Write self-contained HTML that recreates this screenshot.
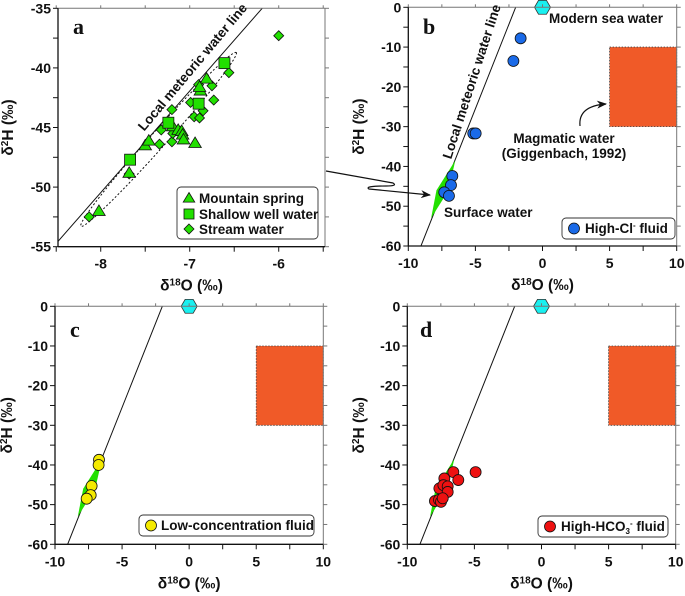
<!DOCTYPE html>
<html><head><meta charset="utf-8"><style>
body{margin:0;background:#fff}
svg{display:block;font-family:"Liberation Sans",Arial,sans-serif}
.tk{font-size:14px;font-weight:bold;fill:#111}
.tt{font-size:15.5px;font-weight:bold;fill:#111}
.lg{font-size:13.5px;font-weight:bold;fill:#111}
.pl{font-family:"Liberation Serif",serif;font-size:22px;font-weight:bold;fill:#111}
</style></head><body>
<svg id="chart" width="685" height="596" viewBox="0 0 685 596">
<defs>
<marker id="ah" markerWidth="10" markerHeight="8" refX="9" refY="4" orient="auto" markerUnits="userSpaceOnUse"><path d="M0,0 L10,4 L0,8 L3,4 Z" fill="#111"/></marker>
</defs>
</svg>
<script>
// Panel a data
const aMountainSpring=[[-8.02,-52.0],[-7.68,-48.8],[-7.50,-46.5],[-7.46,-46.1],[-7.19,-44.9],[-7.13,-45.2],[-7.09,-45.3],[-7.08,-45.6],[-7.07,-46.0],[-6.94,-46.3],[-6.88,-41.9],[-6.81,-40.9],[-6.89,-41.6]];
const aShallowWell=[[-7.67,-47.7],[-7.24,-44.6],[-6.90,-43.0],[-6.61,-39.6]];
const aStream=[[-8.13,-52.5],[-7.68,-48.9],[-7.34,-46.4],[-7.20,-43.5],[-7.32,-45.2],[-7.20,-46.2],[-6.99,-42.9],[-6.95,-44.1],[-6.89,-44.2],[-6.85,-43.6],[-6.90,-41.4],[-6.75,-41.5],[-6.73,-42.7],[-6.56,-40.4],[-6.0,-37.3],[-7.19,-45.5]];
const aXTicks=[-8,-7,-6];
const aYTicks=[-35,-40,-45,-50,-55];
// Panels b-d data
const bHighCl=[[-1.63,-7.8],[-2.17,-13.5],[-5.16,-31.7],[-4.98,-31.7],[-6.72,-42.4],[-6.82,-44.7],[-7.32,-46.5],[-6.97,-47.4]];
const cLowConc=[[-6.72,-38.7],[-6.75,-40.0],[-7.27,-45.3],[-7.34,-47.6],[-7.64,-48.5]];
const dHighHCO3=[[-6.57,-41.8],[-4.91,-41.8],[-6.20,-43.8],[-7.24,-43.4],[-7.61,-45.9],[-7.31,-45.1],[-6.99,-45.4],[-6.99,-46.8],[-7.94,-49.1],[-7.64,-48.8],[-7.49,-49.3],[-7.36,-48.4]];
const bigXTicks=[-10,-5,0,5,10];
const bigYTicks=[0,-10,-20,-30,-40,-50,-60];
const seaWater=[0,0];
const magmaticBox=[5,10,-10,-30];
const surfaceBand=[[-8.3,-53],[-7.9,-46],[-6.5,-38.5],[-7.0,-46]];
const lmwlSlope=8.5, lmwlIntercept=17;
const lmwlSlopeA=8.52, lmwlInterceptA=17.7;

const svg=document.getElementById('chart');
const NS='http://www.w3.org/2000/svg';
function mk(tag,attrs,parent){const e=document.createElementNS(NS,tag);for(const k in attrs)e.setAttribute(k,attrs[k]);(parent||svg).appendChild(e);return e;}

function panel(id,L,R,T,B,x0,x1,y0,y1){
  const g=mk('g',{});
  
  
  const sx=v=>L+(v-x0)/(x1-x0)*(R-L);
  const sy=v=>B-(v-y0)/(y1-y0)*(B-T);
  const cp=mk('clipPath',{id:'clip'+id},g);
  mk('rect',{x:L,y:T,width:R-L,height:B-T},cp);
  const plot=mk('g',{'clip-path':'url(#clip'+id+')'},g);
  return {g,plot,sx,sy,L,R,T,B};
}
function axes(p,xt,yt,minorX,minorY,x0,x1,y0,y1,xl,yl){
  const g=p.g;
  mk('line',{x1:p.L,y1:p.T,x2:p.R,y2:p.T,stroke:'#777','stroke-width':1},g);
  mk('line',{x1:p.R,y1:p.T,x2:p.R,y2:p.B,stroke:'#777','stroke-width':1},g);
  const xa=mk('line',{x1:p.L,y1:p.B,x2:p.R,y2:p.B,stroke:'#111','stroke-width':1.3},g);
  
  
  const ya=mk('line',{x1:p.L,y1:p.T,x2:p.L,y2:p.B,stroke:'#111','stroke-width':1.3},g);
  
  
  for(let v=x0;v<=x1+1e-9;v+=minorX){const x=p.sx(v);mk('line',{x1:x,y1:p.B,x2:x,y2:p.B+5,stroke:'#111'},g);mk('line',{x1:x,y1:p.T,x2:x,y2:p.T-3,stroke:'#777'},g);}
  for(let v=y0;v<=y1+1e-9;v+=minorY){const y=p.sy(v);mk('line',{x1:p.L-5,y1:y,x2:p.L,y2:y,stroke:'#111'},g);mk('line',{x1:p.R,y1:y,x2:p.R+4,y2:y,stroke:'#777'},g);}
  xt.forEach(v=>{const t=mk('text',{x:p.sx(v),y:p.B+22,'text-anchor':'middle',class:'tk'},g);t.textContent=v;});
  yt.forEach(v=>{const t=mk('text',{x:p.L-7,y:p.sy(v)+5,'text-anchor':'end',class:'tk'},g);t.textContent=v;});
  const xt2=mk('text',{x:(p.L+p.R)/2,y:p.B+44,'text-anchor':'middle',class:'tt'},g);
  xt2.innerHTML='δ<tspan font-size="10" dy="-5">18</tspan><tspan dy="5">O (‰)</tspan>';
  
  
  const cy=(p.T+p.B)/2;
  const yt2=mk('text',{x:0,y:0,'text-anchor':'middle',class:'tt',transform:`translate(${xl},${cy}) rotate(-90)`},g);
  yt2.innerHTML='δ<tspan font-size="10" dy="-5">2</tspan><tspan dy="5">H (‰)</tspan>';
  
  
}
function lmwl(p,x0,x1,s,b){
  const l=mk('line',{x1:p.sx(x0),y1:p.sy(s*x0+b),x2:p.sx(x1),y2:p.sy(s*x1+b),stroke:'#111','stroke-width':1},p.plot);
  
  
}
function tri(g,x,y,s){return mk('path',{d:`M${x},${y-s} L${x+s*1.05},${y+s*0.75} L${x-s*1.05},${y+s*0.75} Z`,fill:'#22e000',stroke:'#111','stroke-width':0.8},g);}
function sq(g,x,y,s){return mk('rect',{x:x-s,y:y-s,width:2*s,height:2*s,fill:'#22e000',stroke:'#111','stroke-width':0.8},g);}
function dia(g,x,y,s){return mk('path',{d:`M${x},${y-s} L${x+s},${y} L${x},${y+s} L${x-s},${y} Z`,fill:'#22e000',stroke:'#111','stroke-width':0.8},g);}
function hex(g,x,y,s){let d='';for(let i=0;i<6;i++){const a=Math.PI/3*i;d+=(i?'L':'M')+(x+s*Math.cos(a))+','+(y+s*Math.sin(a));}return mk('path',{d:d+'Z',fill:'#19f0f0',stroke:'#333','stroke-width':0.8},g);}
function common(p,id){
  const r=mk('rect',{x:p.sx(magmaticBox[0]),y:p.sy(magmaticBox[2]),width:p.sx(magmaticBox[1])-p.sx(magmaticBox[0]),height:p.sy(magmaticBox[3])-p.sy(magmaticBox[2]),fill:'#f05a28',stroke:'#444','stroke-width':0.8,'stroke-dasharray':'1.5,1.5'},p.g);
  
  
  const b=mk('path',{d:'M'+surfaceBand.map(q=>p.sx(q[0])+','+p.sy(q[1])).join(' L')+' Z',fill:'#22e000'},p.g);
  
  
  lmwl(p,-9.5,-1.5,lmwlSlope,lmwlIntercept);
  const h=hex(p.g,p.sx(seaWater[0]),p.sy(seaWater[1]),8);
  
  
}
function circles(p,data,color,name){
  data.forEach(q=>{const c=mk('circle',{cx:p.sx(q[0]),cy:p.sy(q[1]),r:5.5,fill:color,stroke:'#111','stroke-width':0.8},p.g);
    
    });
}
function legend(g,x,y,w,h,name){const r=mk('rect',{x,y,width:w,height:h,rx:4,fill:'#fff',stroke:'#333','stroke-width':0.9},g);return r;}
function txt(g,x,y,s,cls,name,extra){const t=mk('text',Object.assign({x,y,class:cls},extra||{}),g);t.innerHTML=s;return t;}

// Panel a
const pa=panel('a',58,325,8.3,246.7,-8.48,-5.48,-55,-35);
lmwl(pa,-9,-5,lmwlSlopeA,lmwlInterceptA);
(function(){const p1=[pa.sx(-8.2),pa.sy(-53.1)],p2=[pa.sx(-6.5),pa.sy(-38.9)];
 const cx=(p1[0]+p2[0])/2,cy=(p1[1]+p2[1])/2,ang=Math.atan2(p2[1]-p1[1],p2[0]-p1[0])*180/Math.PI,rx=Math.hypot(p2[0]-p1[0],p2[1]-p1[1])/2+3;
 const e=mk('ellipse',{cx,cy,rx,ry:8,transform:`rotate(${ang} ${cx} ${cy})`,fill:'none',stroke:'#111','stroke-width':1,'stroke-dasharray':'2,2'},pa.g);
 })();
aStream.forEach(q=>{const e=dia(pa.g,pa.sx(q[0]),pa.sy(q[1]),5);});
aMountainSpring.forEach(q=>{const e=tri(pa.g,pa.sx(q[0]),pa.sy(q[1]),6);});
aShallowWell.forEach(q=>{const e=sq(pa.g,pa.sx(q[0]),pa.sy(q[1]),5.5);});
axes(pa,aXTicks,aYTicks,0.5,2.5,-8.5,-5.5,-55,-35,13);
txt(pa.g,73,34,'a','pl','panel-label-a');
txt(pa.g,0,0,'Local meteoric water line','lg','lmwl-label-a',{transform:'translate(196,70) rotate(-50)','text-anchor':'middle'});
legend(pa.g,177,187,141,52,'legend-a');
tri(pa.g,189,198,5.5);txt(pa.g,199,203,'Mountain spring','lg','legend-entry-mountain-spring');
sq(pa.g,189,214,5);txt(pa.g,199,219,'Shallow well water','lg','legend-entry-shallow-well');
dia(pa.g,189,229,5);txt(pa.g,199,234,'Stream water','lg','legend-entry-stream');

// Panel b
const pb=panel('b',408.3,676.7,7.3,246,-10,10,-60,0);
common(pb,'b');
circles(pb,bHighCl,'#1a6ae8','high-cl-point');
axes(pb,bigXTicks,bigYTicks,2.5,5,-10,10,-60,0,364);
txt(pb.g,423,34,'b','pl','panel-label-b');
txt(pb.g,0,0,'Local meteoric water line','lg','lmwl-label-b',{transform:'translate(476,83) rotate(-72)','text-anchor':'middle'});
txt(pb.g,549,23,'Modern sea water','lg','sea-water-label');
txt(pb.g,564,143,'Magmatic water','lg','magmatic-label',{'text-anchor':'middle'});
txt(pb.g,564,158,'(Giggenbach, 1992)','lg','magmatic-citation',{'text-anchor':'middle'});
txt(pb.g,444,217,'Surface water','lg','surface-water-label');
const ma=mk('path',{d:'M580,126 Q578,106 606,104',fill:'none',stroke:'#111','stroke-width':1.2,'marker-end':'url(#ah)'},pb.g);

legend(pb.g,562,218,113,21,'legend-b');
circles({g:pb.g,sx:()=>574,sy:()=>228.5},[[0,0]],'#1a6ae8','legend-marker-high-cl');
txt(pb.g,585,233,'High-Cl<tspan font-size="8" dy="-5">-</tspan><tspan dy="5"> fluid</tspan>','lg','legend-entry-high-cl');

// Connecting arrow
const ca=mk('path',{d:'M326,171 L393,183 Q398,186 386,186 Q364,186 369,189 L430,195',fill:'none',stroke:'#111','stroke-width':1.2,'marker-end':'url(#ah)'});


// Panel c
const pc=panel('c',55,323.3,306.3,544.3,-10,10,-60,0);
common(pc,'c');
circles(pc,cLowConc,'#f5ea00','low-concentration-point');
axes(pc,bigXTicks,bigYTicks,2.5,5,-10,10,-60,0,12);
txt(pc.g,70,337,'c','pl','panel-label-c');
legend(pc.g,139,515,175,21,'legend-c');
circles({g:pc.g,sx:()=>151,sy:()=>525.5},[[0,0]],'#f5ea00','legend-marker-low-conc');
txt(pc.g,161,530,'Low-concentration fluid','lg','legend-entry-low-conc');

// Panel d
const pd=panel('d',407.3,675.7,306.3,544.3,-10,10,-60,0);
common(pd,'d');
circles(pd,dHighHCO3,'#ee1111','high-hco3-point');
axes(pd,bigXTicks,bigYTicks,2.5,5,-10,10,-60,0,364);
txt(pd.g,420,337,'d','pl','panel-label-d');
legend(pd.g,538,516,130,21,'legend-d');
circles({g:pd.g,sx:()=>550,sy:()=>526.5},[[0,0]],'#ee1111','legend-marker-high-hco3');
txt(pd.g,561,531,'High-HCO<tspan font-size="8" dy="3">3</tspan><tspan font-size="8" dy="-8">-</tspan><tspan dy="5"> fluid</tspan>','lg','legend-entry-high-hco3');
</script>
</body></html>
